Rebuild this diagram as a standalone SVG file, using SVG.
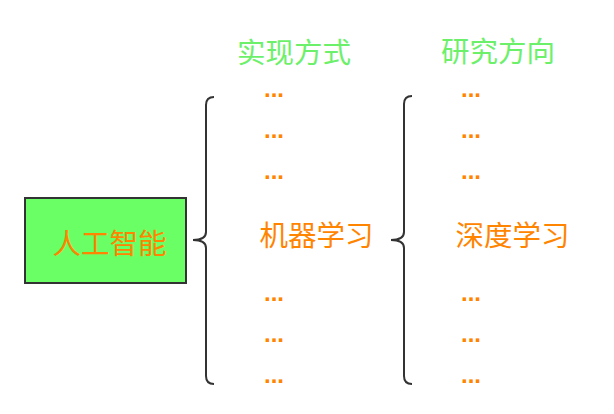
<svg xmlns="http://www.w3.org/2000/svg" width="614" height="414" viewBox="0 0 614 414">
<style>
.cjk{font-family:"Noto Sans CJK SC","Noto Sans",sans-serif;font-size:28.5px}
.title{fill:#6cf06a}
.item{fill:#ff8400}
.dots{font-family:"Liberation Sans",sans-serif;font-size:24px;font-weight:bold;fill:#ff8400}
.brace{fill:none;stroke:#333;stroke-width:2}
</style>
<rect width="614" height="414" fill="#fff"/>
<g id="root">
<rect x="25" y="198" width="161" height="85" fill="#6aff64" stroke="#333" stroke-width="2"/>
<text class="cjk item" x="109.5" y="254" text-anchor="middle">人工智能</text>
</g>
<g id="connectors">
<path class="brace" d="M214 97 Q206 97 206 105 L206 232 Q206 240 193 240 Q206 240 206 248 L206 376 Q206 384 214 384"/>
<path class="brace" d="M412 96 Q404 96 404 104 L404 232 Q404 240 391 240 Q404 240 404 248 L404 376 Q404 384 412 384"/>
</g>
<g id="col1">
<text class="cjk title" x="294" y="62.5" text-anchor="middle">实现方式</text>
<text class="dots" x="264" y="97">...</text>
<text class="dots" x="264" y="138">...</text>
<text class="dots" x="264" y="179">...</text>
<text class="cjk item" x="316.5" y="246" text-anchor="middle">机器学习</text>
<text class="dots" x="264" y="301">...</text>
<text class="dots" x="264" y="342">...</text>
<text class="dots" x="264" y="383">...</text>
</g>
<g id="col2">
<text class="cjk title" x="498" y="62" text-anchor="middle">研究方向</text>
<text class="dots" x="461" y="97">...</text>
<text class="dots" x="461" y="138">...</text>
<text class="dots" x="461" y="179">...</text>
<text class="cjk item" x="512.5" y="246" text-anchor="middle">深度学习</text>
<text class="dots" x="461" y="301">...</text>
<text class="dots" x="461" y="342">...</text>
<text class="dots" x="461" y="383">...</text>
</g>
</svg>
